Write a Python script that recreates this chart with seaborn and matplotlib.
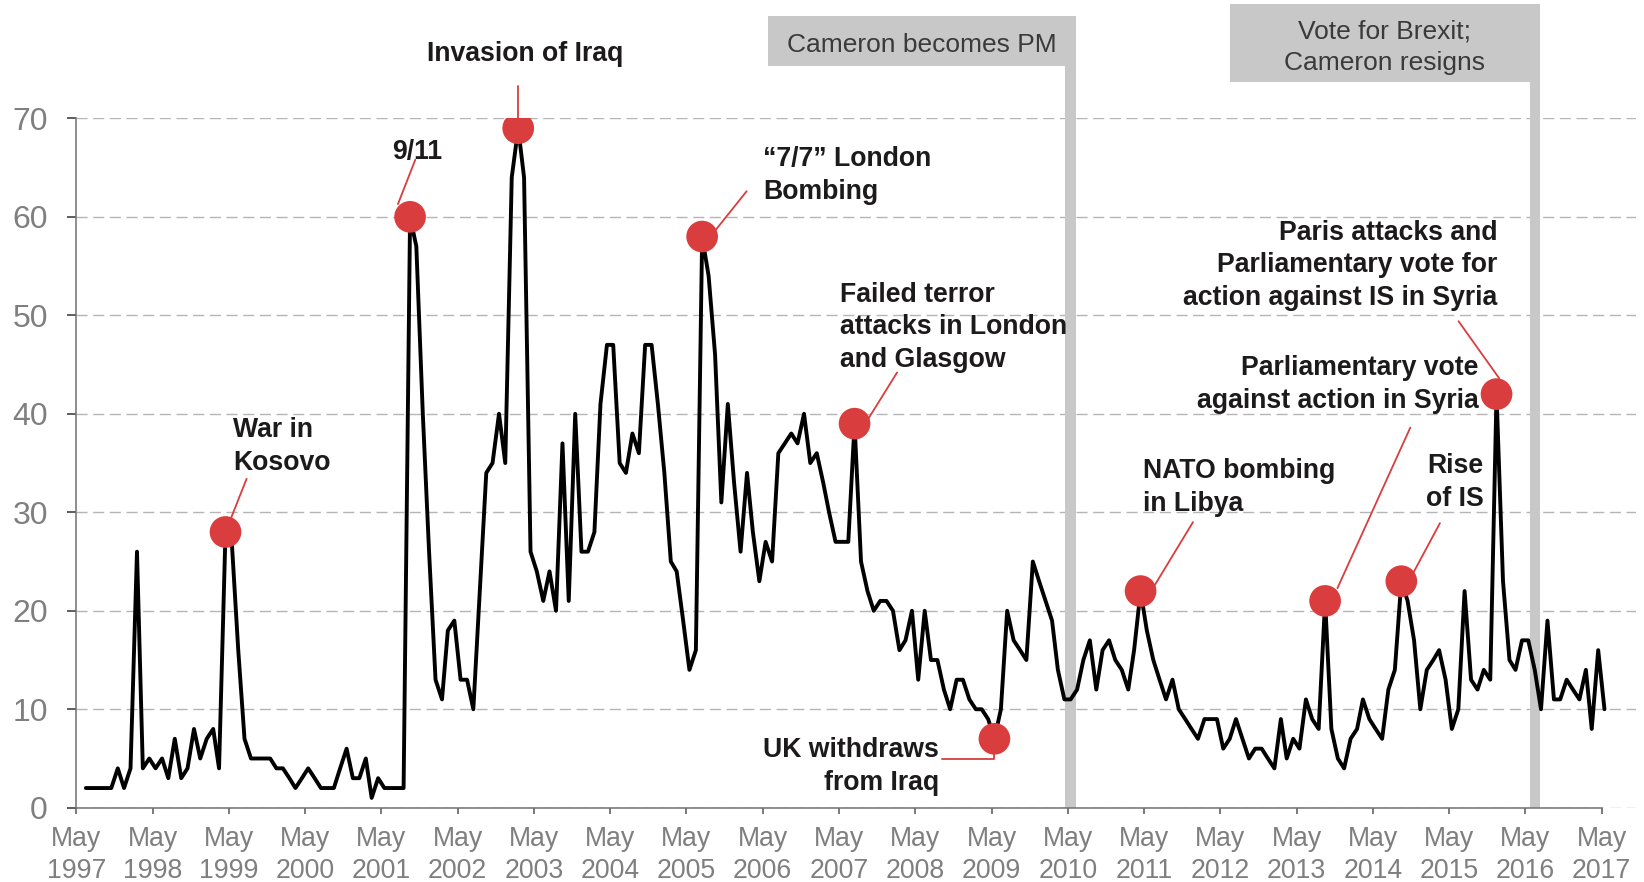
import pandas as pd
import matplotlib.pyplot as plt
import matplotlib.dates as mdates
from matplotlib.patches import Rectangle
import seaborn as sns

# Share naming defence / terrorism as an important issue (%), monthly Jun 1997 - May 2017
months = pd.date_range('1997-06-01', '2017-05-01', freq='MS') + pd.Timedelta(days=14)
share = [
    2, 2, 2, 2, 2, 4, 2, 4, 26, 4, 5, 4,
    5, 3, 7, 3, 4, 8, 5, 7, 8, 4, 28, 27,
    16, 7, 5, 5, 5, 5, 4, 4, 3, 2, 3, 4,
    3, 2, 2, 2, 4, 6, 3, 3, 5, 1, 3, 2,
    2, 2, 2, 60, 57, 40, 26, 13, 11, 18, 19, 13,
    13, 10, 22, 34, 35, 40, 35, 64, 69, 64, 26, 24,
    21, 24, 20, 37, 21, 40, 26, 26, 28, 41, 47, 47,
    35, 34, 38, 36, 47, 47, 41, 34, 25, 24, 19, 14,
    16, 58, 54, 46, 31, 41, 33, 26, 34, 28, 23, 27,
    25, 36, 37, 38, 37, 40, 35, 36, 33, 30, 27, 27,
    27, 39, 25, 22, 20, 21, 21, 20, 16, 17, 20, 13,
    20, 15, 15, 12, 10, 13, 13, 11, 10, 10, 9, 7,
    10, 20, 17, 16, 15, 25, 23, 21, 19, 14, 11, 11,
    12, 15, 17, 12, 16, 17, 15, 14, 12, 16, 22, 18,
    15, 13, 11, 13, 10, 9, 8, 7, 9, 9, 9, 6,
    7, 9, 7, 5, 6, 6, 5, 4, 9, 5, 7, 6,
    11, 9, 8, 21, 8, 5, 4, 7, 8, 11, 9, 8,
    7, 12, 14, 23, 21, 17, 10, 14, 15, 16, 13, 8,
    10, 22, 13, 12, 14, 13, 42, 23, 15, 14, 17, 17,
    14, 10, 19, 11, 11, 13, 12, 11, 14, 8, 16, 10,
]
df = pd.DataFrame({'month': months, 'share': share})

# highlighted events (month of the poll)
event_months = ['1999-04', '2001-09', '2003-02', '2005-07', '2007-07',
                '2009-05', '2011-04', '2013-09', '2014-09', '2015-12']
ev = df[df['month'].dt.strftime('%Y-%m').isin(event_months)]

tick_years = list(range(1997, 2018))
political = [('2010-05', 'Cameron becomes PM'), ('2016-06', 'Vote for Brexit;\nCameron resigns')]

RED = '#d93d3d'
GREY_TXT = '#7f7f7f'
INK = '#1c1a1b'

sns.set_theme(style='white')
plt.rcParams['font.family'] = ['Liberation Sans', 'DejaVu Sans']

fig = plt.figure(figsize=(16.44, 8.82), dpi=100)
ax = fig.add_axes([0.0465, 0.0842, 0.9485, 0.7816])

D = mdates.date2num

# grey vertical bars + boxes for political events
boxes = {'2010-05': ('2006-05-25', 75.3, 80.4), '2016-06': ('2012-06-16', 73.7, 81.6)}
for m, label in political:
    c = D(pd.Timestamp(m + '-15'))
    hw = 25
    left, y0, y1 = boxes[m]
    ax.add_patch(Rectangle((c - hw, 0), 2 * hw, y0, color='#c8c8c8', lw=0, zorder=1, clip_on=False))
    lx = D(pd.Timestamp(left))
    ax.add_patch(Rectangle((lx, y0), c + hw - lx, y1 - y0, color='#c8c8c8', lw=0, zorder=1, clip_on=False))
    ax.text((lx + c + hw) / 2, (y0 + y1) / 2 - 0.4, label, ha='center', va='center', fontsize=19,
            color='#3a3a3a', linespacing=1.4)

sns.lineplot(data=df, x='month', y='share', color='black', lw=2.8, ax=ax, zorder=3)
sns.scatterplot(data=ev, x='month', y='share', color=RED, s=520, edgecolor='none', ax=ax, zorder=5)

# callout lines
callouts = [
    (('1999-04-15', 28), ('1999-07-25', 33.4)),
    (('2001-07-19', 61.3), ('2001-10-10', 65.8)),
    (('2003-02-15', 69), ('2003-02-15', 73.3)),
    (('2005-09-19', 58.7), ('2006-02-13', 62.6)),
    (('2007-09-13', 39.3), ('2008-02-04', 44.2)),
    (('2011-06-19', 22.5), ('2011-12-22', 29.0)),
    (('2013-11-13', 22.3), ('2014-10-28', 38.6)),
    (('2014-11-10', 23.8), ('2015-03-19', 28.9)),
    (('2015-12-28', 43.6), ('2015-06-16', 49.4)),
]
for (d0, v0), (d1, v1) in callouts:
    ax.plot([pd.Timestamp(d0), pd.Timestamp(d1)], [v0, v1], color=RED, lw=1.3, zorder=4, clip_on=False)
ax.plot([pd.Timestamp('2009-05-15'), pd.Timestamp('2009-05-15'), pd.Timestamp('2008-09-07')],
        [7, 4.95, 4.95], color=RED, lw=1.3, zorder=4)

labels = [
    ('War in\nKosovo', '1999-05-22', 36.7, 'left'),
    ('9/11', '2001-10-19', 66.6, 'center'),
    ('Invasion of Iraq', '2003-03-19', 76.5, 'center'),
    ('\u201c7/7\u201d London\nBombing', '2006-05-04', 64.2, 'left'),
    ('Failed terror\nattacks in London\nand Glasgow', '2007-05-07', 48.8, 'left'),
    ('UK withdraws\nfrom Iraq', '2008-08-22', 4.2, 'right'),
    ('NATO bombing\nin Libya', '2011-04-28', 32.5, 'left'),
    ('Parliamentary vote\nagainst action in Syria', '2015-09-19', 43.0, 'right'),
    ('Rise\nof IS', '2015-10-13', 33.0, 'right'),
    ('Paris attacks and\nParliamentary vote for\naction against IS in Syria', '2015-12-19', 55.1, 'right'),
]
for txt, d, v, ha in labels:
    ax.text(pd.Timestamp(d), v, txt, ha=ha, va='center', multialignment=ha, fontsize=19.2,
            fontweight='bold', color=INK, linespacing=1.33, zorder=6)

ax.set_xlim(pd.Timestamp('1997-05-01'), pd.Timestamp('2017-10-12'))
ax.set_ylim(0, 70)
ax.set_xticks([pd.Timestamp(f'{y}-05-01') for y in tick_years])
ax.set_xticklabels([f'May\n{y}' for y in tick_years], linespacing=1.27)
ax.set_yticks(range(0, 71, 10))
ax.set_xlabel('')
ax.set_ylabel('')

ax.yaxis.grid(True, linestyle=(0, (8, 4)), color='#b5b5b5', lw=1)
ax.xaxis.grid(False)
ax.set_axisbelow(True)
for s in ['top', 'right']:
    ax.spines[s].set_visible(False)
for s in ['left', 'bottom']:
    ax.spines[s].set_color('#707070')
    ax.spines[s].set_linewidth(1.1)
ax.spines['bottom'].set_bounds(D(pd.Timestamp('1997-05-01')), D(pd.Timestamp('2017-05-01')))
ax.tick_params(axis='x', length=4.5, width=1.1, color='#555555', pad=9, labelsize=19.2, labelcolor=GREY_TXT)
ax.tick_params(axis='y', length=6.5, width=1.1, color='#333333', pad=14, labelsize=23, labelcolor=GREY_TXT)
ax.tick_params(bottom=True, left=True)

fig.savefig('out.png', dpi=100)
